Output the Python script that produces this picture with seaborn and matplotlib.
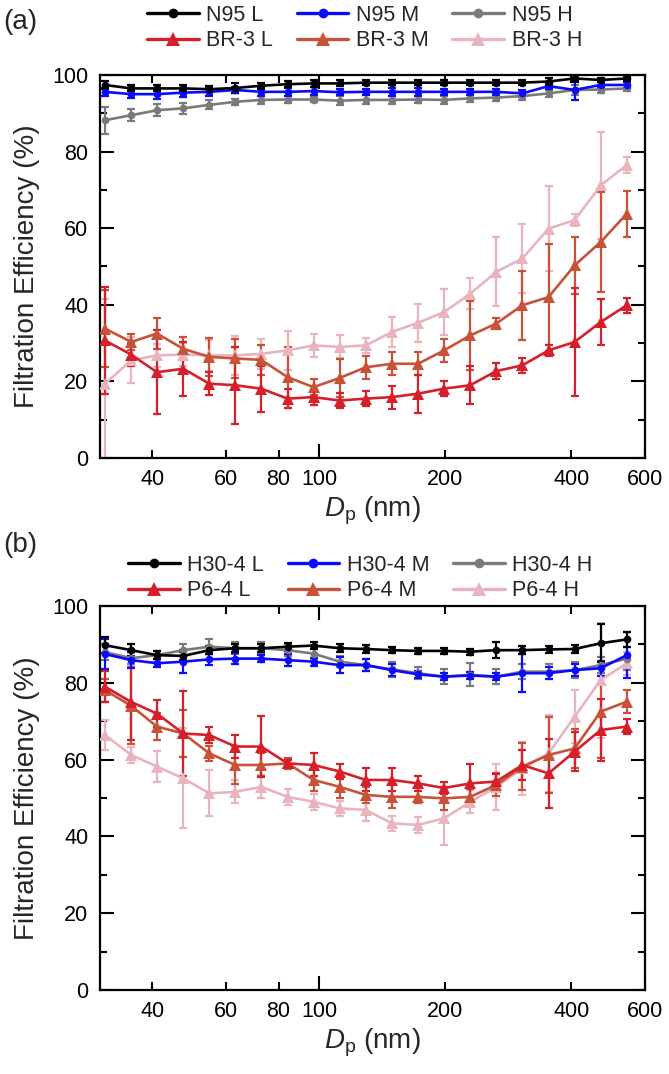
import matplotlib
matplotlib.use("Agg")
import matplotlib.pyplot as plt
from matplotlib.lines import Line2D
from matplotlib.ticker import FixedLocator, FixedFormatter, MultipleLocator
import numpy as np
import pandas as pd
import seaborn as sns

# ---------------- data ----------------
dp_nm = [30.8, 35.6, 41.0, 47.4, 54.7, 63.1, 72.8, 84.1, 97.0, 112.0, 129.3,
         149.2, 172.3, 198.8, 229.5, 264.9, 305.8, 353.0, 407.5, 470.4, 543.0]

# panel (a)
n95_L = [97.4, 96.5, 96.5, 96.5, 96.3, 96.6, 97.2, 97.6, 97.8, 97.8, 98.0,
         98.0, 98.0, 98.0, 98.0, 98.0, 98.0, 98.3, 99.1, 98.7, 99.1]
n95_L_err = [1.0, 0.8, 0.8, 0.8, 0.8, 1.2, 0.8, 0.8, 1.0, 0.8, 0.6,
             0.6, 0.6, 0.6, 0.6, 0.6, 0.6, 0.8, 0.8, 0.6, 0.6]
n95_M = [95.6, 95.0, 95.0, 95.4, 95.6, 96.1, 95.6, 95.6, 95.8, 95.5, 95.6,
         95.6, 95.6, 95.6, 95.6, 95.6, 95.2, 97.1, 96.1, 97.4, 97.4]
n95_M_err = [1.0, 1.0, 1.2, 1.2, 1.2, 0.8, 1.0, 1.0, 1.0, 0.8, 0.8,
             1.0, 1.0, 0.8, 0.8, 0.8, 1.0, 0.8, 2.5, 0.8, 0.8]
n95_H = [88.2, 89.5, 90.8, 91.3, 92.2, 93.0, 93.5, 93.6, 93.6, 93.3, 93.5,
         93.5, 93.6, 93.5, 93.9, 94.1, 94.5, 95.2, 96.1, 96.2, 96.5]
n95_H_err = [3.5, 1.5, 1.5, 1.5, 1.2, 0.8, 1.0, 0.8, 0.6, 1.2, 1.2,
             1.0, 1.0, 1.0, 1.0, 1.0, 1.0, 1.0, 1.2, 0.8, 0.8]
br3_L = [30.7, 27.0, 22.4, 23.3, 19.4, 19.0, 18.1, 15.5, 15.9, 15.0, 15.5,
         15.9, 16.8, 18.1, 19.0, 22.7, 24.2, 28.1, 30.3, 35.5, 39.9]
br3_L_err = [14, 3, 11, 7, 3, 10, 6, 2.5, 2, 2, 2,
             3, 5, 2, 5, 2, 2, 1.5, 14, 6, 2]
br3_M = [33.8, 30.3, 32.5, 28.5, 26.4, 26.0, 25.6, 21.1, 18.5, 20.9, 23.7,
         24.6, 24.6, 28.1, 32.0, 35.1, 39.9, 42.0, 50.3, 56.4, 63.8]
br3_M_err = [10, 2, 4, 3, 5, 5, 4, 8, 2, 5, 3,
             3, 3, 3, 9, 1.5, 9, 14, 7.5, 13, 6]
br3_H = [19.4, 25.5, 26.8, 27.0, 26.8, 26.8, 27.2, 28.1, 29.4, 29.0, 29.4,
         32.9, 35.3, 38.1, 42.9, 48.6, 52.1, 59.9, 62.1, 71.2, 76.5]
br3_H_err = [22, 6, 3, 3, 4, 5, 4, 5, 3, 3, 2,
             4, 5, 6, 4, 9, 9, 11, 1.5, 14, 2]

# panel (b)
h30_L = [89.8, 88.5, 87.2, 87.0, 88.5, 89.0, 89.0, 89.4, 89.7, 89.0, 88.8,
         88.5, 88.3, 88.3, 88.1, 88.5, 88.5, 88.7, 88.8, 90.3, 91.3]
h30_L_err = [2, 1.5, 1, 1, 1, 1, 1, 1, 1, 1, 1,
             0.8, 0.8, 0.8, 0.8, 2, 1, 1, 1, 5, 2]
h30_M = [87.5, 85.9, 85.1, 85.5, 86.1, 86.3, 86.3, 85.9, 85.5, 84.6, 84.6,
         83.3, 82.2, 81.6, 81.9, 81.6, 82.5, 82.5, 83.3, 83.8, 87.2]
h30_M_err = [4, 2, 1, 3, 1.5, 1.5, 1, 1.5, 1, 2, 1.5,
             1.5, 1, 1, 1, 1, 5, 1.5, 1.5, 2, 6]
h30_H = [88.0, 86.4, 87.2, 88.5, 89.4, 89.0, 89.0, 88.5, 87.6, 85.5, 84.6,
         83.5, 82.5, 81.6, 82.1, 81.6, 82.9, 82.9, 83.3, 84.6, 86.3]
h30_H_err = [2, 1.5, 1, 1.5, 2, 1.5, 1.5, 1.5, 1.5, 1.5, 1.5,
             2, 1.5, 2, 3, 2, 2, 2, 2, 2, 3]
p6_L = [79.0, 75.0, 72.0, 66.8, 66.4, 63.4, 63.4, 59.0, 58.6, 56.9, 54.7,
        54.7, 53.8, 52.6, 53.8, 54.3, 58.6, 56.4, 62.1, 67.7, 68.6]
p6_L_err = [4, 10, 3.5, 11, 2, 3, 8, 1, 3, 2, 3,
            3, 2, 1.5, 5, 2, 4, 9, 5, 8, 2]
p6_M = [78.1, 74.0, 68.6, 66.8, 61.6, 58.6, 58.6, 59.0, 54.7, 52.9, 50.8,
        50.3, 50.3, 49.9, 50.3, 53.4, 58.2, 61.2, 62.9, 72.5, 75.1]
p6_M_err = [3, 10, 3.5, 6, 2, 5, 3, 1.5, 3, 3, 2,
            3, 1.5, 3, 2, 3, 6, 10, 5, 12, 3]
p6_H = [66.4, 61.2, 58.2, 55.1, 51.2, 51.6, 52.9, 50.3, 49.0, 47.3, 46.9,
        43.4, 43.0, 44.7, 49.0, 52.9, 57.7, 61.6, 71.2, 80.7, 85.1]
p6_H_err = [4, 2, 4, 13, 6, 3, 3, 2, 2, 2, 3,
            2, 2, 7, 3, 6, 7, 10, 7, 15, 3]

labels_a = ["N95 L", "N95 M", "N95 H", "BR-3 L", "BR-3 M", "BR-3 H"]
labels_b = ["H30-4 L", "H30-4 M", "H30-4 H", "P6-4 L", "P6-4 M", "P6-4 H"]
colors = ["#000000", "#0a0aff", "#7a7a7a", "#d51f2b", "#c85238", "#e8b5bf"]
marker_kinds = ["o", "o", "o", "^", "^", "^"]
marker_sizes = [5.5, 5.5, 5.5, 8.5, 8.5, 8.5]

minor_ticks = [40, 60, 80, 200, 400, 600]
minor_tick_labels = ["40", "60", "80", "200", "400", "600"]
major_ticks = [100]
major_tick_labels = ["100"]

# ---------------- style ----------------
sns.set_theme(style="ticks")
plt.rcParams["font.family"] = ["Liberation Sans", "DejaVu Sans"]
plt.rcParams["mathtext.fontset"] = "custom"
plt.rcParams["mathtext.rm"] = "Liberation Sans"
plt.rcParams["mathtext.it"] = "Liberation Sans:italic"

W, H = 669, 1074
fig = plt.figure(figsize=(W / 100, H / 100), dpi=100)
fig.patch.set_facecolor("white")

left, right = 99.5, 645


def make_ax(top, bottom):
    return fig.add_axes([left / W, 1 - bottom / H, (right - left) / W, (bottom - top) / H])


ax_a = make_ax(75, 458)
ax_b = make_ax(606, 990)

panels = [
    (ax_a, labels_a,
     [n95_L, n95_M, n95_H, br3_L, br3_M, br3_H],
     [n95_L_err, n95_M_err, n95_H_err, br3_L_err, br3_M_err, br3_H_err],
     "(a)", (20, 22), (147, 28)),
    (ax_b, labels_b,
     [h30_L, h30_M, h30_H, p6_L, p6_M, p6_H],
     [h30_L_err, h30_M_err, h30_H_err, p6_L_err, p6_M_err, p6_H_err],
     "(b)", (20, 545), (128, 578)),
]

for ax, labels, ys, errs, tag, tag_xy, leg_xy in panels:
    rows = []
    for lab, y, e in zip(labels, ys, errs):
        for xv, yv, ev in zip(dp_nm, y, e):
            rows.append({"Dp": xv, "FE": yv, "err": ev, "Series": lab})
    df = pd.DataFrame(rows)

    draw_order = [5, 4, 3, 2, 1, 0]
    for k in draw_order:
        lab = labels[k]
        sub = df[df["Series"] == lab]
        ax.errorbar(sub["Dp"], sub["FE"], yerr=sub["err"], fmt="none",
                    ecolor=colors[k], elinewidth=1.6, capsize=3.0, capthick=1.6,
                    zorder=2 + (5 - k) * 0.1)
        sns.lineplot(data=sub, x="Dp", y="FE", color=colors[k], marker=marker_kinds[k],
                     markersize=marker_sizes[k], markeredgewidth=0, linewidth=1.9,
                     ax=ax, legend=False, zorder=3 + (5 - k) * 0.1, errorbar=None)

    ax.set_xscale("log")
    ax.set_xlim(29.9, 600)
    ax.set_ylim(0, 100)
    ax.xaxis.set_major_locator(FixedLocator(major_ticks))
    ax.xaxis.set_major_formatter(FixedFormatter(major_tick_labels))
    ax.xaxis.set_minor_locator(FixedLocator(minor_ticks))
    ax.xaxis.set_minor_formatter(FixedFormatter(minor_tick_labels))
    ax.yaxis.set_major_locator(MultipleLocator(20))
    ax.yaxis.set_minor_locator(MultipleLocator(10))

    ax.tick_params(which="both", direction="in", top=True, right=True,
                   labelsize=15.5, width=1.5, colors="black")
    ax.tick_params(which="major", length=10)
    ax.tick_params(axis="x", which="minor", length=6, labelsize=15.5, pad=8)
    ax.tick_params(axis="x", which="major", pad=8)
    ax.tick_params(axis="y", which="minor", length=5)
    ax.tick_params(axis="y", which="both", pad=8)

    for s in ax.spines.values():
        s.set_linewidth(1.6)
        s.set_color("black")
    ax.set_facecolor("white")

    ax.set_xlabel(r"$D_\mathrm{p}$ (nm)", fontsize=20, labelpad=3)
    ax.set_ylabel("Filtration Efficiency (%)", fontsize=20, labelpad=9)

    handles = []
    for k in range(6):
        handles.append(Line2D([0], [0], color=colors[k], marker=marker_kinds[k],
                              markersize=marker_sizes[k] + 1.5, markeredgewidth=0, lw=2.4))
    order = [0, 3, 1, 4, 2, 5]
    fig.legend([handles[i] for i in order], [labels[i] for i in order], ncol=3,
               loc="center left",
               bbox_to_anchor=(leg_xy[0] / W, 1 - leg_xy[1] / H),
               bbox_transform=fig.transFigure, frameon=False, borderpad=0,
               borderaxespad=0, fontsize=15.5, handlelength=2.4, handletextpad=0.35,
               columnspacing=1.1, labelspacing=0.2)

    fig.text(tag_xy[0] / W, 1 - tag_xy[1] / H, tag, fontsize=20, va="center", ha="center")

fig.savefig("out.png", dpi=100, facecolor="white")
